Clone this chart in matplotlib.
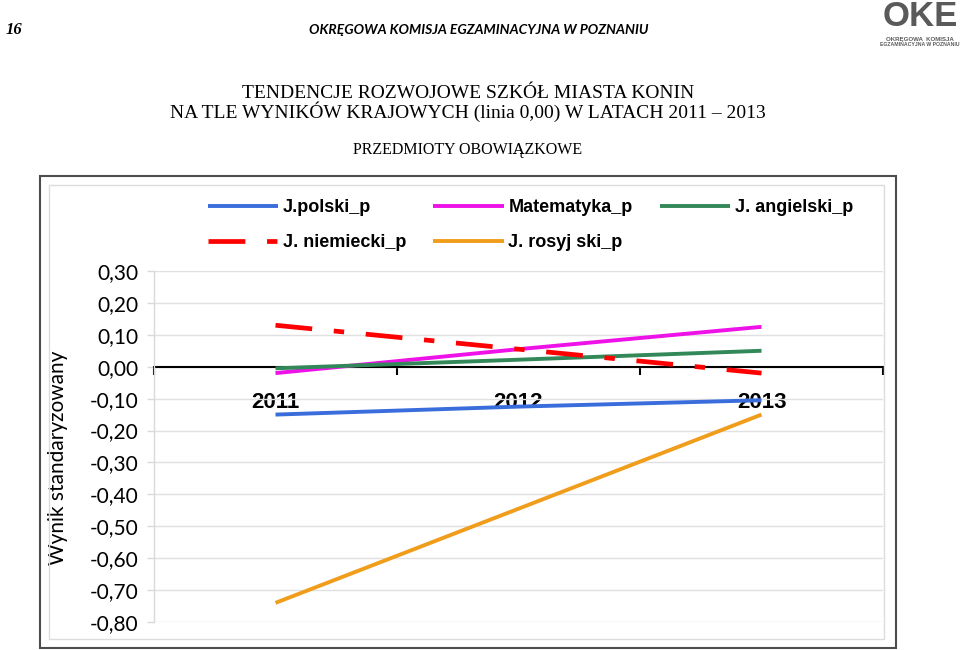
import matplotlib
matplotlib.use("Agg")
import matplotlib.pyplot as plt
from matplotlib.patches import Rectangle

# ---- data ----
years = ["2011", "2012", "2013"]
polski = [-0.15, -0.125, -0.105]
matematyka = [-0.02, 0.055, 0.125]
angielski = [-0.005, 0.022, 0.05]
niemiecki = [0.13, 0.055, -0.02]
rosyjski = [-0.74, -0.445, -0.15]
series_names = ["J.polski_p", "Matematyka_p", "J. angielski_p", "J. niemiecki_p", "J. rosyj ski_p"]
ytick_values = [0.3, 0.2, 0.1, 0.0, -0.1, -0.2, -0.3, -0.4, -0.5, -0.6, -0.7, -0.8]
ytick_labels = ["0,30", "0,20", "0,10", "0,00", "-0,10", "-0,20", "-0,30", "-0,40",
                "-0,50", "-0,60", "-0,70", "-0,80"]

W, H = 960, 650
fig = plt.figure(figsize=(9.6, 6.5), dpi=100)

def fx(px):
    return px / W

def fy(py):
    return 1 - py / H

# ---- page header ----
fig.text(fx(6), fy(30), "16", family="Liberation Serif", style="italic",
         fontweight="bold", fontsize=12, va="center", ha="left")
fig.text(fx(479), fy(30), "OKRĘGOWA KOMISJA EGZAMINACYJNA W POZNANIU", family="Lato",
         style="italic", fontweight="bold", fontsize=10, va="center", ha="center")
# logo (approximation)
fig.text(fx(920), fy(17), "OKE", family="Liberation Sans", fontweight="bold",
         fontsize=25, color="#5a5a5a", va="center", ha="center")
fig.text(fx(920), fy(39), "OKRĘGOWA  KOMISJA", family="Liberation Sans", fontweight="bold",
         fontsize=4.4, color="#5a5a5a", va="center", ha="center")
fig.text(fx(920), fy(45), "EGZAMINACYJNA W POZNANIU", family="Liberation Sans", fontweight="bold",
         fontsize=3.7, color="#5a5a5a", va="center", ha="center")

# ---- titles ----
fig.text(fx(468), fy(93), "TENDENCJE ROZWOJOWE SZKÓŁ MIASTA KONIN", family="Liberation Serif",
         fontsize=14, va="center", ha="center")
fig.text(fx(468), fy(112), "NA TLE WYNIKÓW KRAJOWYCH (linia 0,00) W LATACH 2011 – 2013",
         family="Liberation Serif", fontsize=14, va="center", ha="center")
fig.text(fx(468), fy(150), "PRZEDMIOTY OBOWIĄZKOWE", family="Liberation Serif",
         fontsize=11.5, va="center", ha="center")

# ---- chart frame ----
fig.add_artist(Rectangle((fx(40), fy(648)), fx(896 - 40), (648 - 176) / H, transform=fig.transFigure,
                         fill=False, edgecolor="#4d4d4d", linewidth=1.5))
fig.add_artist(Rectangle((fx(49), fy(639)), fx(884 - 49), (639 - 185) / H, transform=fig.transFigure,
                         fill=False, edgecolor="#dcdcdc", linewidth=1.0))

# ---- axes ----
ax = fig.add_axes([fx(154), fy(622), fx(883 - 154), (622 - 271) / H])
ax.spines["bottom"].set_position(("data", 0))
ax.spines["bottom"].set_color("black")
ax.spines["bottom"].set_linewidth(1.5)
ax.spines["bottom"].set_zorder(2)
ax.spines["left"].set_color("#d9d9d9")
ax.spines["left"].set_linewidth(1.0)
ax.spines["top"].set_visible(False)
ax.spines["right"].set_visible(False)

x = list(range(len(years)))

colors = ["#3a6ddc", "#ee12e8", "#33885a", "#ff0000", "#f19d1c"]
series = [polski, matematyka, angielski, niemiecki, rosyjski]
handles = []
for i, (vals, c, name) in enumerate(zip(series, colors, series_names)):
    if i == 3:
        ln, = ax.plot(x, vals, color=c, lw=3.4, ls=(0, (7.8, 4.6, 2.2, 4.6)),
                      solid_capstyle="butt", dash_capstyle="butt", label=name, zorder=3)
    else:
        ln, = ax.plot(x, vals, color=c, lw=2.8, solid_capstyle="butt", label=name, zorder=3)
    handles.append(ln)

ax.set_xlim(-0.5, 2.5)
ax.set_ylim(-0.8, 0.3)

ax.set_yticks(ytick_values)
ax.set_yticklabels(ytick_labels, family="Lato", fontsize=15)
ax.tick_params(axis="y", length=5, width=1, color="#d9d9d9", pad=6.5)
ax.yaxis.grid(True, color="#e0e0e0", linewidth=1.0)
ax.set_axisbelow(True)

ax.set_xticks(x)
ax.set_xticklabels(years, family="Liberation Sans", fontweight="bold", fontsize=16)
ax.set_xticks([-0.5, 0.5, 1.5, 2.5], minor=True)
ax.tick_params(axis="x", which="major", length=0, pad=18)
ax.tick_params(axis="x", which="minor", length=6, width=1.5, color="black", direction="out")

ax.set_ylabel("Wynik standaryzowany", family="Lato", fontsize=15)
ax.yaxis.set_label_coords((68 - 154) / (883 - 154), (622 - 458) / (622 - 271))

# ---- legend (row-wise order like the reference) ----
order = [0, 3, 1, 4, 2]
leg = fig.legend(handles=[handles[k] for k in order],
                 loc="upper left", bbox_to_anchor=(fx(208), fy(199)), ncol=3,
                 frameon=False, borderpad=0, borderaxespad=0,
                 handlelength=3.9, handletextpad=0.25, columnspacing=1.5,
                 labelspacing=1.02,
                 prop={"family": "Liberation Sans", "weight": "bold", "size": 13})

fig.savefig("out.png", dpi=100)
